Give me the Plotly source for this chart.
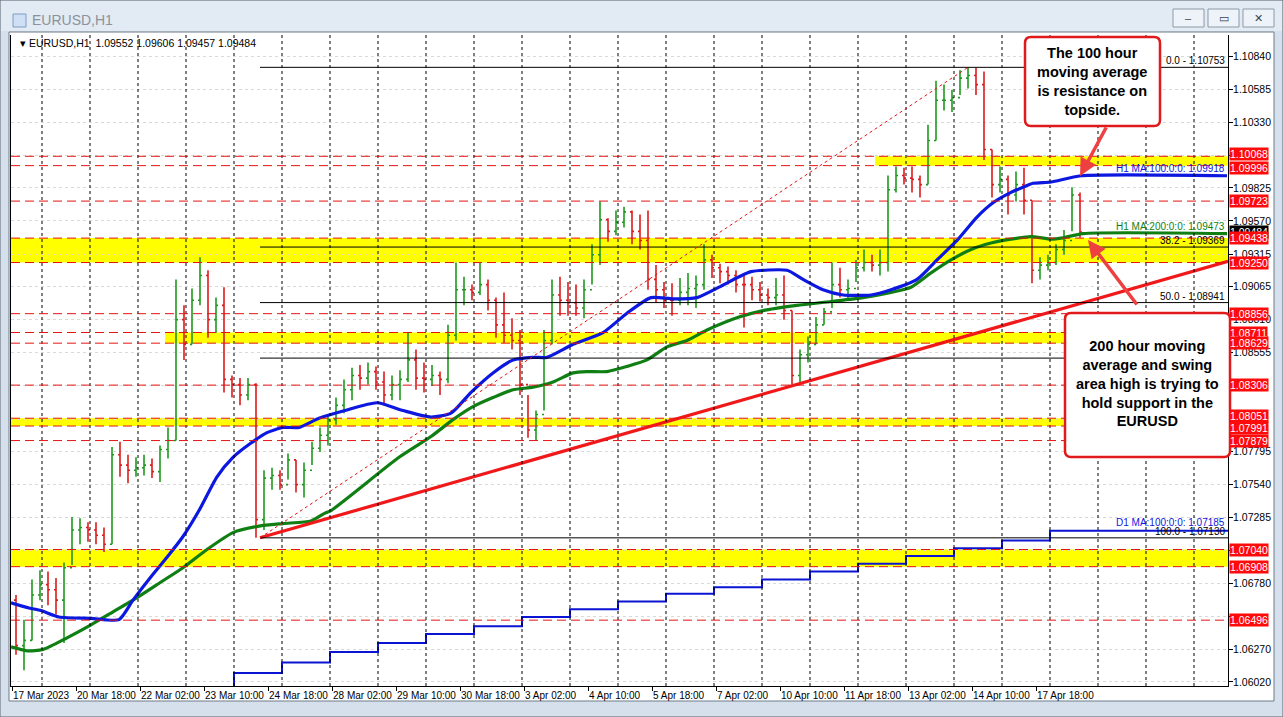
import plotly.graph_objects as go

# ---------------- data ----------------
# price bars, each aggregating 4 hourly bars, 17 Mar 2023 -> 18 Apr 2023
bar_hours = 4
highs = [1.0669, 1.0650, 1.0681, 1.0688, 1.0687, 1.0682, 1.0694, 1.0729, 1.0728, 1.0725,
         1.0725, 1.0721, 1.0783, 1.0787, 1.0777, 1.0775, 1.0777, 1.0774, 1.0784, 1.0798,
         1.0912, 1.0892, 1.0905, 1.0929, 1.0919, 1.0898, 1.0906, 1.0838, 1.0836, 1.0836,
         1.0832, 1.0765, 1.0767, 1.0765, 1.0778, 1.0773, 1.0771, 1.0787, 1.0798, 1.0808,
         1.0821, 1.0835, 1.0844, 1.0846, 1.0848, 1.0845, 1.0841, 1.0838, 1.0842, 1.0871,
         1.0858, 1.0848, 1.0846, 1.0841, 1.0877, 1.0925, 1.0914, 1.0908, 1.0925, 1.0912,
         1.0898, 1.0902, 1.0882, 1.0873, 1.0823, 1.0811, 1.0873, 1.0912, 1.0914, 1.0910,
         1.0908, 1.0912, 1.0939, 1.0972, 1.0959, 1.0965, 1.0968, 1.0965, 1.0962, 1.0965,
         1.0923, 1.0910, 1.0909, 1.0913, 1.0917, 1.0915, 1.0939, 1.0931, 1.0924, 1.0922,
         1.0919, 1.0915, 1.0914, 1.0910, 1.0905, 1.0913, 1.0915, 1.0888, 1.0858, 1.0868,
         1.0883, 1.0890, 1.0925, 1.0921, 1.0912, 1.0927, 1.0935, 1.0931, 1.0935, 1.0992,
         1.0999, 1.0998, 1.0999, 1.0992, 1.1031, 1.1065, 1.1062, 1.1058, 1.1073, 1.10753,
         1.1075, 1.1072, 1.1012, 1.0999, 1.0992, 1.0995, 1.0998, 1.0973, 1.0929, 1.0931,
         1.0939, 1.0950, 1.0983, 1.0979]
lows = [1.0623, 1.0611, 1.0634, 1.0665, 1.0661, 1.0654, 1.0632, 1.0692, 1.0708, 1.0710,
        1.0708, 1.0702, 1.0708, 1.0760, 1.0755, 1.0760, 1.0761, 1.0759, 1.0756, 1.0774,
        1.0788, 1.0850, 1.0862, 1.0892, 1.0867, 1.0871, 1.0825, 1.0821, 1.0815, 1.0819,
        1.0713, 1.0719, 1.0750, 1.0750, 1.0758, 1.0748, 1.0744, 1.0769, 1.0779, 1.0784,
        1.0800, 1.0809, 1.0819, 1.0827, 1.0831, 1.0827, 1.0815, 1.0819, 1.0819, 1.0833,
        1.0827, 1.0825, 1.0830, 1.0823, 1.0832, 1.0865, 1.0892, 1.0896, 1.0900, 1.0888,
        1.0867, 1.0863, 1.0858, 1.0823, 1.0790, 1.0788, 1.0811, 1.0862, 1.0884, 1.0884,
        1.0884, 1.0882, 1.0908, 1.0923, 1.0941, 1.0946, 1.0952, 1.0939, 1.0935, 1.0904,
        1.0894, 1.0890, 1.0884, 1.0892, 1.0892, 1.0890, 1.0904, 1.0913, 1.0909, 1.0908,
        1.0902, 1.0875, 1.0896, 1.0895, 1.0892, 1.0892, 1.0881, 1.0831, 1.0833, 1.0848,
        1.0862, 1.0877, 1.0890, 1.0898, 1.0896, 1.0910, 1.0918, 1.0918, 1.0915, 1.0918,
        1.0979, 1.0985, 1.0979, 1.0975, 1.0985, 1.1019, 1.1042, 1.1041, 1.1054, 1.1059,
        1.1054, 1.1004, 1.0975, 1.0979, 1.0962, 1.0972, 1.0962, 1.0909, 1.0912, 1.0919,
        1.0923, 1.0931, 1.0949, 1.0944]
closes = [1.0630, 1.0634, 1.0669, 1.0677, 1.0673, 1.0665, 1.0690, 1.0719, 1.0721, 1.0719,
          1.0715, 1.0708, 1.0777, 1.0769, 1.0765, 1.0767, 1.0769, 1.0764, 1.0781, 1.0788,
          1.0881, 1.0862, 1.0896, 1.0915, 1.0881, 1.0892, 1.0835, 1.0831, 1.0823, 1.0831,
          1.0727, 1.0759, 1.0761, 1.0754, 1.0773, 1.0754, 1.0765, 1.0782, 1.0792, 1.0804,
          1.0815, 1.0827, 1.0838, 1.0836, 1.0841, 1.0833, 1.0823, 1.0831, 1.0835, 1.0850,
          1.0836, 1.0835, 1.0838, 1.0835, 1.0869, 1.0904, 1.0904, 1.0902, 1.0908, 1.0896,
          1.0877, 1.0869, 1.0865, 1.0831, 1.0796, 1.0808, 1.0865, 1.0900, 1.0896, 1.0894,
          1.0890, 1.0904, 1.0931, 1.0958, 1.0949, 1.0956, 1.0964, 1.0949, 1.0942, 1.0912,
          1.0904, 1.0896, 1.0896, 1.0902, 1.0905, 1.0908, 1.0927, 1.0921, 1.0918, 1.0915,
          1.0908, 1.0908, 1.0904, 1.0900, 1.0898, 1.0900, 1.0888, 1.0838, 1.0854, 1.0862,
          1.0877, 1.0887, 1.0908, 1.0904, 1.0905, 1.0921, 1.0925, 1.0923, 1.0925, 1.0981,
          1.0992, 1.0990, 1.0989, 1.0985, 1.1019, 1.1050, 1.1050, 1.1052, 1.1067, 1.1069,
          1.1062, 1.1012, 1.0985, 1.0989, 1.0977, 1.0985, 1.0973, 1.0919, 1.0923, 1.0925,
          1.0935, 1.0942, 1.0977, 1.09484]
first_open = 1.0665

# H1 MA(100) knots: hourly bar index, value
ma100_idx = [0, 9, 15, 24, 40, 54, 61, 70, 78, 86, 94, 103, 111, 120, 128, 136, 144, 154, 167, 183,
             196, 210, 220, 230, 241, 251, 261, 268, 281, 296, 308, 320, 331, 343, 354, 364, 370, 388,
             396, 406, 416, 430, 440, 453, 463, 473, 483, 491, 500, 506, 511, 520, 535, 608]
ma100_val = [1.0663, 1.0659, 1.0657, 1.0652, 1.0651, 1.0650, 1.0665, 1.0683, 1.0698, 1.0714, 1.0734,
             1.0760, 1.0775, 1.0786, 1.0794, 1.0798, 1.0798, 1.0805, 1.0811, 1.0817, 1.0811, 1.0806,
             1.0809, 1.0825, 1.0840, 1.0850, 1.0852, 1.0852, 1.0862, 1.0871, 1.0886, 1.0898, 1.0897,
             1.0898, 1.0906, 1.0914, 1.0918, 1.0919, 1.0912, 1.0904, 1.0900, 1.0900, 1.0904, 1.0912,
             1.0927, 1.0942, 1.0960, 1.0971, 1.0979, 1.0983, 1.0986, 1.0987, 1.09918, 1.09918]
# H1 MA(200) knots
ma200_idx = [0, 8, 16, 28, 40, 51, 63, 75, 86, 98, 111, 124, 136, 150, 157, 160, 194, 210, 221, 231,
             241, 251, 261, 271, 281, 288, 298, 308, 318, 328, 338, 348, 364, 376, 393, 410, 426, 440,
             450, 460, 470, 480, 490, 500, 510, 520, 526, 536, 608]
ma200_val = [1.0629, 1.0626, 1.0627, 1.0636, 1.0646, 1.0656, 1.0667, 1.0679, 1.0690, 1.0704, 1.0717,
             1.0722, 1.0724, 1.0726, 1.0732, 1.0734, 1.0775, 1.0791, 1.0804, 1.0814, 1.0821, 1.0827,
             1.0829, 1.0833, 1.0840, 1.0841, 1.0841, 1.0845, 1.0850, 1.0860, 1.0865, 1.0873, 1.0883,
             1.0888, 1.0892, 1.0895, 1.0898, 1.0902, 1.0906, 1.0917, 1.0927, 1.0935, 1.0940, 1.0943,
             1.0945, 1.0943, 1.0944, 1.09473, 1.09473]
# D1 MA(100) daily steps (day start bar index, value)
d1_idx = [63.5, 111.5, 135.5, 159.5, 183.5, 207.5, 231.5, 255.5, 279.5, 303.5, 327.5, 351.5, 375.5,
          399.5, 423.5, 447.5, 471.5, 495.5, 519.5, 608.5]
d1_val = [1.0590, 1.0609, 1.0617, 1.0625, 1.0632, 1.0639, 1.0645, 1.0652, 1.0658, 1.0664, 1.0670,
          1.0675, 1.0681, 1.0687, 1.0693, 1.0699, 1.0705, 1.0711, 1.07185, 1.07185]

# horizontal levels with red price labels
red_levels = [1.10068, 1.09996, 1.09723, 1.09438, 1.09250, 1.08856, 1.08711, 1.08629, 1.08306,
              1.08051, 1.07991, 1.07879, 1.07040, 1.06908, 1.06496]
# yellow zones: (low, high, start bar index, end bar index)
zones = [(1.09996, 1.10068, 432, 608.5), (1.09250, 1.09438, 0, 608.5), (1.08629, 1.08711, 77, 526),
         (1.07991, 1.08051, 0, 526), (1.06908, 1.07040, 0, 608.5)]
# fibonacci retracement
fib_low, fib_high = 1.07130, 1.10753
fib_low_idx, fib_high_idx = 124.5, 478.5
fib_ratios = [0.0, 38.2, 50.0, 61.8, 100.0]
# trend line
trend_idx = [124.5, 608.5]
trend_val = [1.0713, 1.0926]
current_price = 1.09484
header_vals = ["1.09552", "1.09606", "1.09457", "1.09484"]

# axis ticks (labels hidden under red price tags are left blank)
price_ticks = [1.10840, 1.10585, 1.10330, 1.10075, 1.09825, 1.09570, 1.09315, 1.09065, 1.08810,
               1.08555, 1.08300, 1.08045, 1.07795, 1.07540, 1.07285, 1.07030, 1.06780, 1.06525,
               1.06270, 1.06020]
hidden_ticks = [1.10075, 1.08300, 1.08045, 1.07030, 1.06525]
time_labels = ["17 Mar 2023", "20 Mar 18:00", "22 Mar 02:00", "23 Mar 10:00", "24 Mar 18:00",
               "28 Mar 02:00", "29 Mar 10:00", "30 Mar 18:00", "3 Apr 02:00", "4 Apr 10:00",
               "5 Apr 18:00", "7 Apr 02:00", "10 Apr 10:00", "11 Apr 18:00", "13 Apr 02:00",
               "14 Apr 10:00", "17 Apr 18:00"]
label_step = 32          # hourly bars between time labels
day_step = 24            # hourly bars per day separator
first_day_idx = 15.5

# ---------------- layout geometry ----------------
W, H = 1283, 717
PL, PR, PT, PB = 11, 1228, 35, 686
x_range = [0, (PR - PL) / 2]
y_range = [1.05989, 1.11002]


def X(px):
    return (px - PL) / (PR - PL)


def Y(py):
    return (PB - py) / (PB - PT)


FONT = "Liberation Sans"
SMALL = 10
RED = "#e31414"

opens = [first_open] + closes[:-1]
x_bars = [bar_hours * k + 2.5 for k in range(len(closes))]

fig = go.Figure()

fig.add_trace(go.Scatter(x=d1_idx, y=d1_val, mode="lines", line=dict(color="#0a14d2", width=2, shape="hv"),
                         hoverinfo="skip", showlegend=False))
fig.add_trace(go.Ohlc(x=x_bars, open=opens, high=highs, low=lows, close=closes,
                      increasing=dict(line=dict(color="#1f9a1f", width=1.6)),
                      decreasing=dict(line=dict(color="#dc1c1c", width=1.6)),
                      tickwidth=0.25, hoverinfo="skip", showlegend=False))
fig.add_trace(go.Scatter(x=ma200_idx, y=ma200_val, mode="lines",
                         line=dict(color="#0f7f14", width=3.2, shape="spline", smoothing=0.6),
                         hoverinfo="skip", showlegend=False))
fig.add_trace(go.Scatter(x=ma100_idx, y=ma100_val, mode="lines",
                         line=dict(color="#0c18e0", width=3.2, shape="spline", smoothing=0.6),
                         hoverinfo="skip", showlegend=False))
fig.add_trace(go.Scatter(x=trend_idx, y=trend_val, mode="lines", line=dict(color="#f01818", width=3.2),
                         hoverinfo="skip", showlegend=False))

shapes = []
# window chrome
shapes.append(dict(type="rect", xref="paper", yref="paper", x0=X(0), x1=X(1283), y0=Y(717), y1=Y(0),
                   fillcolor="#d6e0ec", line=dict(color="#5b6672", width=1), layer="below"))
shapes.append(dict(type="rect", xref="paper", yref="paper", x0=X(1), x1=X(1282), y0=Y(31), y1=Y(1),
                   fillcolor="#e2eaf4", line=dict(width=0), layer="below"))
shapes.append(dict(type="rect", xref="paper", yref="paper", x0=X(9), x1=X(1274), y0=Y(701), y1=Y(32),
                   fillcolor="white", line=dict(color="#6f7b88", width=1), layer="below"))
# title-bar buttons
for bx in (1173, 1208, 1243):
    shapes.append(dict(type="rect", xref="paper", yref="paper", x0=X(bx), x1=X(bx + 31), y0=Y(27), y1=Y(9),
                       fillcolor="#eef3f9", line=dict(color="#8e9aa8", width=1), layer="below"))
shapes.append(dict(type="rect", xref="paper", yref="paper", x0=X(13), x1=X(26), y0=Y(27), y1=Y(14),
                   fillcolor="#cfe0f4", line=dict(color="#7d9cc4", width=1), layer="below"))

# yellow zones
for lo, hi, i0, i1 in zones:
    shapes.append(dict(type="rect", xref="x", yref="y", x0=i0, x1=i1, y0=lo, y1=hi,
                       fillcolor="#ffff00", line=dict(width=0), layer="below"))
# day separators (black dashed)
k = 0
while first_day_idx + k * day_step < x_range[1]:
    xi = first_day_idx + k * day_step
    shapes.append(dict(type="line", xref="x", yref="paper", x0=xi, x1=xi, y0=0, y1=1,
                       line=dict(color="#000000", width=1, dash="3px,3px"), layer="above"))
    k += 1
# red dashed levels
for lv in red_levels:
    shapes.append(dict(type="line", xref="paper", yref="y", x0=0, x1=1, y0=lv, y1=lv,
                       line=dict(color=RED, width=1, dash="9px,5px"), layer="above"))
# fib lines
for r in fib_ratios:
    lv = fib_high - (fib_high - fib_low) * r / 100.0
    shapes.append(dict(type="line", xref="x", yref="y", x0=fib_low_idx, x1=x_range[1], y0=lv, y1=lv,
                       line=dict(color="#000000", width=1), layer="above"))
shapes.append(dict(type="line", xref="x", yref="y", x0=fib_low_idx, x1=fib_high_idx, y0=fib_low, y1=fib_high,
                   line=dict(color=RED, width=1, dash="dot"), layer="above"))


def rounded_box(x0, y0, x1, y1, r=6):
    return ("M {a},{b} L {c},{b} Q {d},{b} {d},{e} L {d},{f} Q {d},{g} {c},{g} L {a},{g} "
            "Q {h},{g} {h},{f} L {h},{e} Q {h},{b} {a},{b} Z").format(
        a=X(x0 + r), b=Y(y0), c=X(x1 - r), d=X(x1), e=Y(y0 + r), f=Y(y1 - r), g=Y(y1), h=X(x0))


shapes.append(dict(type="path", xref="paper", yref="paper", path=rounded_box(1025, 37, 1160, 126),
                   fillcolor="white", line=dict(color="#e01a1a", width=2.5), layer="above"))
shapes.append(dict(type="path", xref="paper", yref="paper", path=rounded_box(1065, 313, 1230, 457),
                   fillcolor="white", line=dict(color="#e01a1a", width=2.5), layer="above"))

ann = []
# header
ann.append(dict(xref="paper", yref="paper", x=X(18), y=Y(43), xanchor="left", yanchor="middle",
                text="▾ EURUSD,H1  " + " ".join(header_vals), showarrow=False,
                font=dict(family=FONT, size=10.5, color="black")))
ann.append(dict(xref="paper", yref="paper", x=X(30), y=Y(20), xanchor="left", yanchor="middle",
                text="EURUSD,H1", showarrow=False, font=dict(family=FONT, size=14, color="#8b929b")))
for bx, glyph in ((1173, "–"), (1208, "▭"), (1243, "✕")):
    ann.append(dict(xref="paper", yref="paper", x=X(bx + 15.5), y=Y(18), xanchor="center", yanchor="middle",
                    text=glyph, showarrow=False, font=dict(family=FONT, size=11, color="#3a4450")))

# fib labels
for r in fib_ratios:
    if r == 61.8:
        continue
    lv = fib_high - (fib_high - fib_low) * r / 100.0
    ann.append(dict(xref="paper", yref="y", x=X(1226), y=lv, xanchor="right", yanchor="bottom", yshift=0,
                    text="%.1f - %.5f" % (r, lv), showarrow=False, borderpad=0,
                    font=dict(family=FONT, size=SMALL, color="black")))
# indicator labels
for val, txt, col, ys in ((ma100_val[-1], "H1 MA:100:0:0: %.5f", "#0c18e0", 1),
                          (ma200_val[-1], "H1 MA:200:0:0: %.5f", "#0f7f14", 1),
                          (d1_val[-1], "D1 MA:100:0:0: %.5f", "#0c18e0", 2)):
    ann.append(dict(xref="paper", yref="y", x=X(1226), y=val, xanchor="right", yanchor="bottom", yshift=ys,
                    text=txt % val, showarrow=False, borderpad=0,
                    font=dict(family=FONT, size=SMALL, color=col)))
# current price (black) then red labels
ann.append(dict(xref="paper", yref="y", x=X(1229), y=current_price, xanchor="left", yanchor="middle",
                text="%.5f" % current_price, showarrow=False, bgcolor="black", borderpad=0,
                font=dict(family=FONT, size=10.5, color="white")))
label_nudge = {1.10068: 2, 1.09996: -2, 1.08051: 2, 1.07991: -2}
for lv in red_levels:
    ann.append(dict(xref="paper", yref="y", x=X(1229), y=lv, xanchor="left", yanchor="middle",
                    yshift=label_nudge.get(lv, 0),
                    text="%.5f" % lv, showarrow=False, bgcolor="#ff0a0a", borderpad=0,
                    font=dict(family=FONT, size=10.5, color="white")))

# callouts
BOLD = dict(family=FONT, size=14.5, color="black", weight="bold")
ann.append(dict(xref="paper", yref="paper", x=X(1092), y=Y(82), xanchor="center", yanchor="middle",
                text="The 100 hour<br>moving average<br>is resistance on<br>topside.", showarrow=False,
                font=BOLD, align="center"))
ann.append(dict(xref="paper", yref="paper", x=X(1147), y=Y(384), xanchor="center", yanchor="middle",
                text="200 hour moving<br>average and swing<br>area high is trying to<br>hold support in the<br>EURUSD",
                showarrow=False, font=BOLD, align="center"))
ann.append(dict(xref="paper", yref="paper", x=X(1080), y=Y(176), ax=27, ay=-50, axref="pixel", ayref="pixel",
                text="", showarrow=True, arrowhead=2, arrowsize=1, arrowwidth=3.5, arrowcolor="#ee4040"))
ann.append(dict(xref="paper", yref="paper", x=X(1088), y=Y(240), ax=50, ay=66, axref="pixel", ayref="pixel",
                text="", showarrow=True, arrowhead=2, arrowsize=1, arrowwidth=3.5, arrowcolor="#ee4040"))

fig.update_layout(
    width=W, height=H, autosize=False,
    margin=dict(l=PL, r=W - PR, t=PT, b=H - PB, pad=0, autoexpand=False),
    paper_bgcolor="#d6e0ec", plot_bgcolor="white",
    shapes=shapes, annotations=ann, showlegend=False, hovermode=False,
    xaxis=dict(range=x_range, rangeslider=dict(visible=False), showgrid=False, zeroline=False,
               showline=True, linecolor="black", linewidth=1, automargin=False, tickangle=0,
               tickvals=[label_step * i + 0.5 for i in range(len(time_labels))], ticktext=time_labels,
               ticks="outside", ticklen=4, tickcolor="black", ticklabelposition="outside right",
               tickfont=dict(family=FONT, size=SMALL, color="black")),
    yaxis=dict(range=y_range, side="right", showgrid=True, gridcolor="#d9d9d9", griddash="dot",
               zeroline=False, showline=True, linecolor="black", linewidth=1, mirror=True, automargin=False,
               tickvals=price_ticks,
               ticktext=["" if t in hidden_ticks else "%.5f" % t for t in price_ticks],
               ticks="outside", ticklen=4, tickcolor="black", ticklabelstandoff=-2,
               tickfont=dict(family=FONT, size=10.5, color="black")),
)

fig.write_html("out.html", config={"displayModeBar": False},
               post_script="document.body.style.margin='0px';")
